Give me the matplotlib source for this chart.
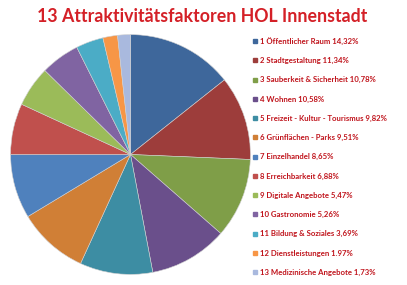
import matplotlib.pyplot as plt
from matplotlib.lines import Line2D

# data
labels = ['1 Öffentlicher Raum 14,32%', '2 Stadtgestaltung 11,34%',
          '3 Sauberkeit & Sicherheit 10,78%', '4 Wohnen 10,58%',
          '5 Freizeit - Kultur - Tourismus 9,82%', '6 Grünflächen - Parks 9,51%',
          '7 Einzelhandel 8,65%', '8 Erreichbarkeit 6,88%',
          '9 Digitale Angebote 5,47%', '10 Gastronomie 5,26%',
          '11 Bildung & Soziales 3,69%', '12 Dienstleistungen 1.97%',
          '13 Medizinische Angebote 1,73%']
values = [14.32, 11.34, 10.78, 10.58, 9.82, 9.51, 8.65, 6.88, 5.47, 5.26, 3.69, 1.97, 1.73]
colors = ['#3E679B', '#9D3D3B', '#7F9E48', '#6A4F8B', '#3D8DA3', '#D07F36',
          '#4F81BD', '#C0504D', '#9BBB59', '#8064A2', '#4BACC6', '#F79646', '#A9B9DE']

plt.rcParams['font.family'] = ['Lato', 'DejaVu Sans']

fig = plt.figure(figsize=(4.07, 2.85), dpi=100)
ax = fig.add_axes([10 / 407, 1 - 275 / 285, 241 / 407, 241 / 285])
ax.pie(values, colors=colors, startangle=90, counterclock=False,
       wedgeprops={'linewidth': 0.4, 'edgecolor': '#d0d0d0'})
ax.set_xlim(-1.005, 1.005)
ax.set_ylim(-1.005, 1.005)
ax.set_aspect('equal')

fig.text(202 / 407, 1 - 16 / 285, '13 Attraktivitätsfaktoren HOL Innenstadt',
         ha='center', va='center', color='#D42027', fontsize=12.8, fontweight='bold')

handles = [Line2D([], [], marker='s', linestyle='', markersize=3.3, color=c) for c in colors]
leg = fig.legend(handles, labels, loc='upper left', bbox_to_anchor=(253 / 407, 1 - 37 / 285),
                 frameon=False, fontsize=5.6, labelspacing=1.56, handlelength=0.6,
                 handletextpad=0.3, borderaxespad=0, borderpad=0)
for t in leg.get_texts():
    t.set_color('#C0141C')
    t.set_fontweight('bold')

fig.savefig('out.png', dpi=100)
